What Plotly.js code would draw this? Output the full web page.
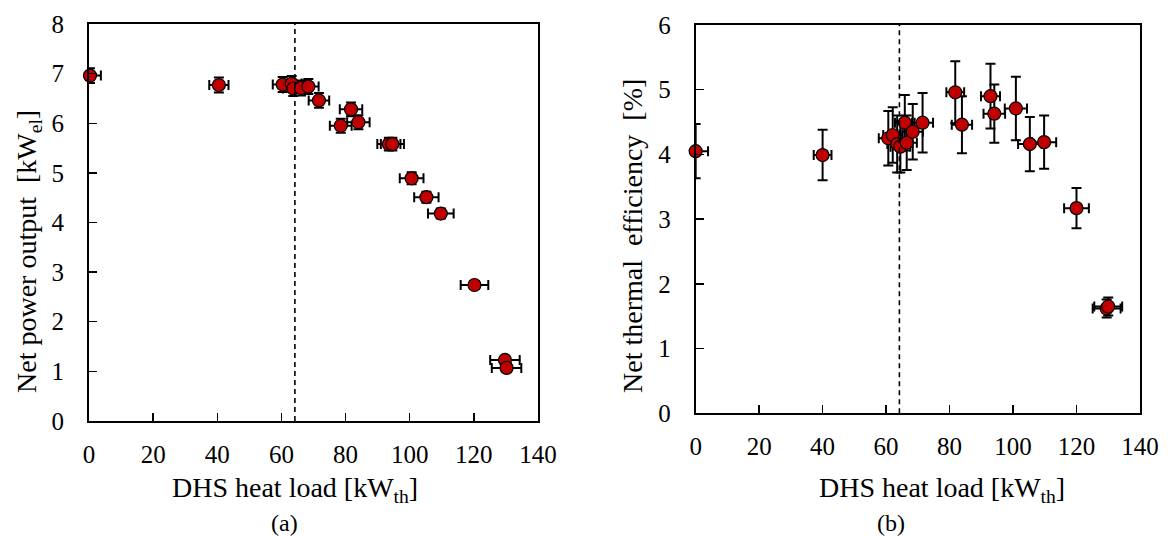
<!DOCTYPE html>
<html>
<head>
<meta charset="utf-8">
<script src="https://cdn.plot.ly/plotly-3.0.1.min.js"></script>
<style>html,body{margin:0;padding:0;background:#fff;}#chart{width:1168px;height:536px;}</style>
</head>
<body>
<div id="chart"></div>
<script>
// Panel (a): net power output vs DHS heat load
const loadA = [0.3, 40.5, 60.4, 63.2, 63.7, 66.1, 68.4, 71.7, 78.5, 81.7, 84.0, 93.5, 94.6, 100.6, 105.2, 109.7, 120.2, 129.7, 130.2];
const powerA = [6.96, 6.77, 6.78, 6.80, 6.70, 6.71, 6.74, 6.46, 5.95, 6.28, 6.02, 5.58, 5.58, 4.89, 4.51, 4.18, 2.74, 1.23, 1.07];
const loadErrA = [3.4, 3.0, 3.1, 3.1, 3.2, 3.2, 3.2, 3.2, 3.4, 3.5, 3.5, 3.6, 3.6, 3.7, 3.8, 4.0, 4.3, 4.6, 4.6];
const powerErrA = [0.15, 0.15, 0.15, 0.15, 0.15, 0.15, 0.15, 0.15, 0.14, 0.14, 0.14, 0.13, 0.13, 0.12, 0.11, 0.10, 0.08, 0.06, 0.06];

// Panel (b): net thermal efficiency vs DHS heat load
const loadB = [0.0, 40.0, 60.7, 62.1, 63.5, 64.5, 65.9, 66.5, 68.4, 71.5, 81.8, 83.9, 92.9, 94.1, 100.9, 105.3, 109.8, 120.0, 129.5, 130.0];
const effB = [4.05, 3.99, 4.25, 4.30, 4.16, 4.12, 4.49, 4.18, 4.35, 4.49, 4.96, 4.46, 4.90, 4.63, 4.71, 4.16, 4.19, 3.17, 1.62, 1.65];
const loadErrB = [3.9, 2.8, 3.0, 3.0, 3.1, 3.1, 3.1, 3.2, 3.2, 3.3, 2.8, 3.2, 3.0, 3.4, 3.5, 3.7, 3.8, 3.9, 4.4, 4.4];
const effErrB = [0.42, 0.39, 0.42, 0.43, 0.44, 0.40, 0.43, 0.42, 0.43, 0.46, 0.48, 0.44, 0.50, 0.45, 0.49, 0.42, 0.41, 0.31, 0.14, 0.14];

const refLoad = 64.2;
const xTicks = [0, 20, 40, 60, 80, 100, 120, 140];

const serif = '"Liberation Serif", "Times New Roman", Times, serif';
const markerStyle = {symbol: 'circle', size: 13, color: '#c00000', line: {color: '#000000', width: 1.2}};
const errStyle = {color: '#000000', thickness: 2, width: 5};

const traces = [
  {
    type: 'scatter', mode: 'markers', x: loadA, y: powerA, xaxis: 'x', yaxis: 'y',
    marker: markerStyle, cliponaxis: false,
    error_x: Object.assign({type: 'data', array: loadErrA, visible: true}, errStyle),
    error_y: Object.assign({type: 'data', array: powerErrA, visible: true}, errStyle),
    showlegend: false
  },
  {
    type: 'scatter', mode: 'markers', x: loadB, y: effB, xaxis: 'x2', yaxis: 'y2',
    marker: markerStyle, cliponaxis: false,
    error_x: Object.assign({type: 'data', array: loadErrB, visible: true}, errStyle),
    error_y: Object.assign({type: 'data', array: effErrB, visible: true}, errStyle),
    showlegend: false
  }
];

const tickFont = {family: serif, size: 25, color: '#000'};
const titleFont = {family: serif, size: 28, color: '#000'};

function xAxis(domain, anchor) {
  return {
    domain: domain, anchor: anchor, range: [0, 140], tickvals: xTicks,
    ticks: 'inside', ticklen: 8, tickwidth: 1.5, tickcolor: '#000',
    showline: true, linecolor: '#000', linewidth: 2, mirror: true,
    showgrid: false, zeroline: false, tickfont: tickFont, ticklabelstandoff: 10
  };
}
function yAxis(domain, anchor, range, dtick) {
  return {
    domain: domain, anchor: anchor, range: range, dtick: dtick, tick0: 0,
    ticks: 'inside', ticklen: 8, tickwidth: 1.5, tickcolor: '#000',
    showline: true, linecolor: '#000', linewidth: 2, mirror: true,
    showgrid: false, zeroline: false, tickfont: tickFont, ticklabelstandoff: 18
  };
}

const layout = {
  width: 1168, height: 536,
  margin: {l: 0, r: 0, t: 0, b: 0},
  paper_bgcolor: '#fff', plot_bgcolor: '#fff',
  font: {family: serif, color: '#000'},
  xaxis: xAxis([0.0762, 0.4606], 'y'),
  yaxis: yAxis([0.2146, 0.9552], 'x', [0, 8], 1),
  xaxis2: xAxis([0.5956, 0.9760], 'y2'),
  yaxis2: yAxis([0.2289, 0.9534], 'x2', [0, 6], 1),
  shapes: [
    {type: 'line', xref: 'x', yref: 'y domain', x0: refLoad, x1: refLoad, y0: 0, y1: 1, line: {color: '#000', width: 1.6, dash: '5px,4px'}},
    {type: 'line', xref: 'x2', yref: 'y2 domain', x0: refLoad, x1: refLoad, y0: 0, y1: 1, line: {color: '#000', width: 1.6, dash: '5px,4px'}}
  ],
  annotations: [
    {text: 'DHS heat load [kW<sub>th</sub>]', xref: 'paper', yref: 'paper', x: 295/1168, y: 1 - 489/536, xanchor: 'center', yanchor: 'middle', showarrow: false, font: titleFont},
    {text: 'DHS heat load [kW<sub>th</sub>]', xref: 'paper', yref: 'paper', x: 942/1168, y: 1 - 489/536, xanchor: 'center', yanchor: 'middle', showarrow: false, font: titleFont},
    {text: 'Net power output&nbsp;&nbsp;[kW<sub>el</sub>]', xref: 'paper', yref: 'paper', x: 28/1168, y: 1 - 252/536, xanchor: 'center', yanchor: 'middle', textangle: -90, showarrow: false, font: titleFont},
    {text: 'Net thermal&nbsp;&nbsp;efficiency&nbsp;&nbsp;[%]', xref: 'paper', yref: 'paper', x: 632/1168, y: 1 - 236/536, xanchor: 'center', yanchor: 'middle', textangle: -90, showarrow: false, font: titleFont},
    {text: '(a)', xref: 'paper', yref: 'paper', x: 284/1168, y: 1 - 523/536, xanchor: 'center', yanchor: 'middle', showarrow: false, font: {family: serif, size: 24, color: '#000'}},
    {text: '(b)', xref: 'paper', yref: 'paper', x: 891/1168, y: 1 - 523/536, xanchor: 'center', yanchor: 'middle', showarrow: false, font: {family: serif, size: 24, color: '#000'}}
  ]
};

Plotly.newPlot('chart', traces, layout, {displayModeBar: false, staticPlot: true});
</script>
</body>
</html>
